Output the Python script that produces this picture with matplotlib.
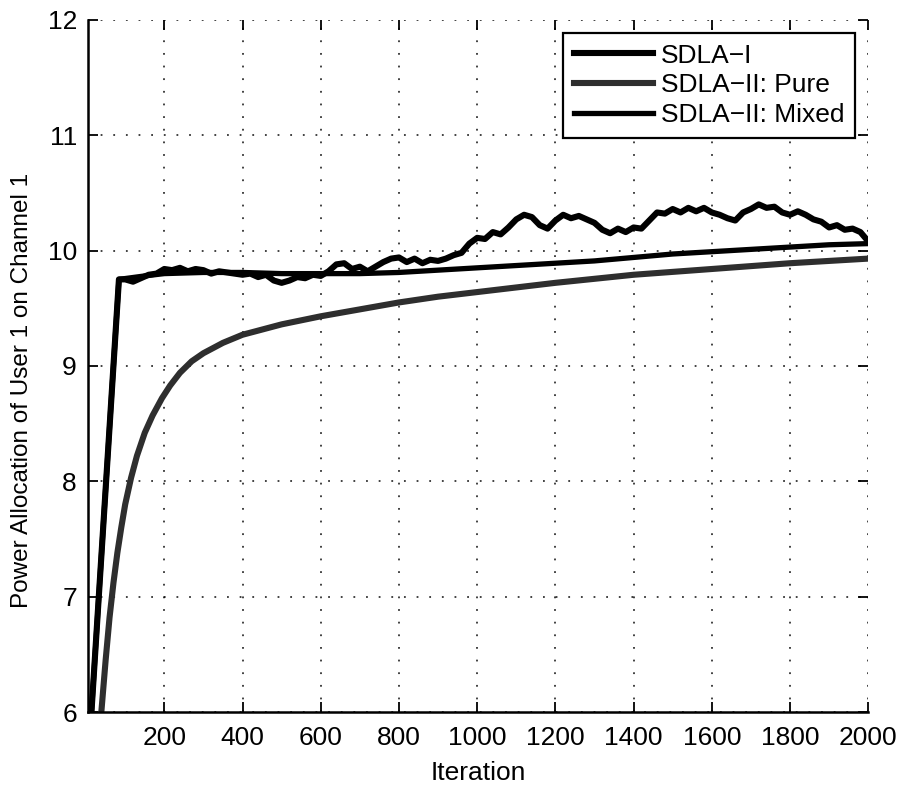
import numpy as np
import matplotlib.pyplot as plt

plt.rcParams['font.family'] = ['Liberation Sans', 'DejaVu Sans']

# SDLA-I: ramp up, then noisy trajectory sampled every 20 iterations
sdla1_ramp_x = [10, 84]
sdla1_ramp_y = [5.8, 9.75]
sdla1_x = list(range(100, 2001, 20))
sdla1_y = [9.75, 9.73, 9.76, 9.79, 9.80, 9.84, 9.83, 9.85, 9.82, 9.84,
           9.83, 9.80, 9.82, 9.81, 9.80, 9.79, 9.80, 9.77, 9.79, 9.74,
           9.72, 9.74, 9.77, 9.76, 9.79, 9.78, 9.82, 9.88, 9.89, 9.84,
           9.86, 9.82, 9.86, 9.90, 9.93, 9.94, 9.90, 9.93, 9.89, 9.92,
           9.91, 9.93, 9.96, 9.98, 10.06, 10.11, 10.10, 10.16, 10.14, 10.20,
           10.27, 10.31, 10.29, 10.22, 10.19, 10.26, 10.31, 10.28, 10.30, 10.27,
           10.24, 10.18, 10.15, 10.19, 10.16, 10.20, 10.19, 10.26, 10.33, 10.32,
           10.36, 10.33, 10.37, 10.34, 10.37, 10.33, 10.31, 10.28, 10.26, 10.33,
           10.36, 10.40, 10.37, 10.38, 10.33, 10.31, 10.34, 10.31, 10.27, 10.25,
           10.20, 10.22, 10.18, 10.19, 10.16, 10.08]

# SDLA-II: Pure (smooth, slow)
pure_x = [34, 39, 50, 60, 70, 80, 90, 100, 115, 130, 150, 170, 194, 215, 240,
          270, 300, 350, 400, 500, 600, 700, 800, 900, 1000, 1200, 1400,
          1600, 1800, 2000]
pure_y = [5.8, 6.0, 6.45, 6.82, 7.12, 7.38, 7.60, 7.80, 8.03, 8.22, 8.42,
          8.57, 8.72, 8.83, 8.94, 9.04, 9.11, 9.20, 9.27, 9.36, 9.43, 9.49,
          9.55, 9.60, 9.64, 9.72, 9.79, 9.84, 9.89, 9.93]

# SDLA-II: Mixed (smooth, fast)
mixed_x = [10, 84, 150, 200, 300, 400, 500, 600, 700, 800, 900, 1000, 1100,
           1200, 1300, 1400, 1500, 1600, 1700, 1800, 1900, 2000]
mixed_y = [5.8, 9.75, 9.78, 9.80, 9.81, 9.81, 9.80, 9.80, 9.80, 9.81, 9.83,
           9.85, 9.87, 9.89, 9.91, 9.94, 9.97, 9.99, 10.01, 10.03, 10.05, 10.06]

xticks = list(range(200, 2001, 200))
yticks = [6, 7, 8, 9, 10, 11, 12]

fig = plt.figure(figsize=(9.03, 7.92), dpi=100)
ax = fig.add_axes([0.0975, 0.101, 0.864, 0.874])

ax.plot(sdla1_ramp_x + sdla1_x, sdla1_ramp_y + sdla1_y, color='black',
        lw=4.4, solid_joinstyle='round', label='SDLA\u2212I')
ax.plot(pure_x, pure_y, color='#2e2e2e', lw=4.4, label='SDLA\u2212II: Pure')
ax.plot(mixed_x, mixed_y, color='black', lw=3.8, label='SDLA\u2212II: Mixed')

ax.set_xlim(5, 2000)
ax.set_ylim(6, 12)
ax.set_xticks(xticks)
ax.set_yticks(yticks)
ax.tick_params(direction='in', length=7, width=1.3, labelsize=19,
               top=True, right=True)
ax.tick_params(axis='x', pad=10)
ax.tick_params(axis='y', pad=8)
ax.grid(True, color='black', linestyle=(0, (1, 6)), linewidth=1.3, alpha=0.8)

for side in ['top', 'right']:
    ax.spines[side].set_visible(False)
for side in ['left', 'bottom']:
    ax.spines[side].set_linewidth(1.8)

ax.set_xlabel('Iteration', fontsize=19, labelpad=8)
ax.set_ylabel('Power Allocation of User 1 on Channel 1', fontsize=17.5)
ax.yaxis.set_label_coords(-0.071, 0.465)

leg = ax.legend(loc='upper right', fontsize=19, handlelength=3.0,
                handletextpad=0.3, fancybox=False, framealpha=1,
                edgecolor='black', borderpad=0.4, labelspacing=0.22,
                borderaxespad=0.5)
leg.get_frame().set_linewidth(1.6)

fig.savefig('out.png', dpi=100)
